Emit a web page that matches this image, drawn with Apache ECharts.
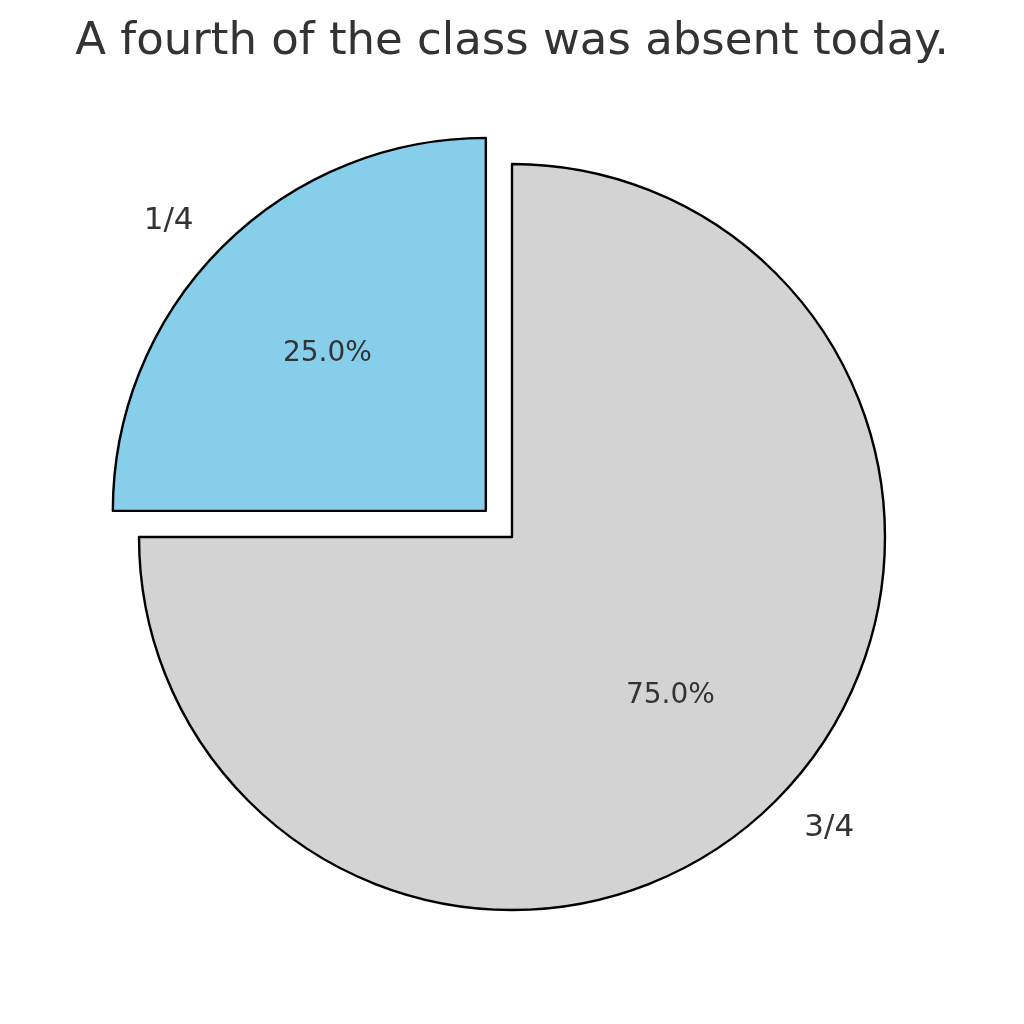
<!DOCTYPE html>
<html>
<head>
<meta charset="utf-8">
<script src="https://cdn.jsdelivr.net/npm/echarts@6/dist/echarts.min.js"></script>
<style>
  html, body { margin: 0; padding: 0; background: #ffffff; }
  #chart { width: 1024px; height: 1024px; }
</style>
</head>
<body>
<div id="chart"></div>
<script>
// data
var titleText = "A fourth of the class was absent today.";
var sliceNames = ["1/4", "3/4"];
var sliceValues = [1, 3];
var sliceColors = ["#87ceeb", "#d3d3d3"];
var explodedIndex = 0;

var cx = 512, cy = 537, r = 373;
var offset = 37; // explode 0.1 of radius
var textColor = "#333333";
var font = "DejaVu Sans";

function pieData(visible) {
  return sliceNames.map(function (name, i) {
    return {
      name: name,
      value: sliceValues[i],
      selected: i === explodedIndex,
      itemStyle: visible ? { color: sliceColors[i] } : { color: "transparent", borderWidth: 0 }
    };
  });
}

var common = {
  type: "pie",
  center: [cx, cy],
  startAngle: 90,
  clockwise: false,
  selectedMode: "single",
  selectedOffset: offset,
  avoidLabelOverlap: false,
  silent: true,
  animation: false,
  emphasis: { disabled: true },
  labelLine: { show: false }
};

var chart = echarts.init(document.getElementById("chart"));
chart.setOption({
  backgroundColor: "#ffffff",
  animation: false,
  title: {
    text: titleText,
    left: "center",
    top: 15,
    textStyle: { fontFamily: font, fontSize: 45, fontWeight: "normal", color: textColor }
  },
  series: [
    // the wedges
    Object.assign({}, common, {
      radius: [0, r],
      data: pieData(true),
      itemStyle: { borderColor: "#000000", borderWidth: 2.4 },
      select: { itemStyle: { borderColor: "#000000", borderWidth: 2.4 } },
      label: { show: false }
    }),
    // percentages at 0.6 r
    Object.assign({}, common, {
      radius: [r * 0.2, r],
      data: pieData(false),
      select: { itemStyle: { color: "transparent", borderWidth: 0 } },
      label: {
        show: true,
        position: "inside",
        fontFamily: font,
        fontSize: 28,
        color: textColor,
        formatter: function (p) { return p.percent.toFixed(1) + "%"; }
      },
      labelLayout: function (p) {
        return p.dataIndex === 0 ? { dx: 2, dy: 3 } : { dx: -2, dy: -2 };
      }
    }),
    // names at 1.1 r
    Object.assign({}, common, {
      radius: [r, r * 1.2],
      data: pieData(false),
      select: { itemStyle: { color: "transparent", borderWidth: 0 } },
      label: {
        show: true,
        position: "inside",
        fontFamily: font,
        fontSize: 31,
        color: textColor,
        formatter: "{b}"
      },
      labelLayout: function (p) {
        var w = p.labelRect.width / 2;
        return p.dataIndex === 0 ? { dx: -w, dy: 2 } : { dx: w, dy: -1 };
      }
    })
  ]
});
</script>
</body>
</html>
